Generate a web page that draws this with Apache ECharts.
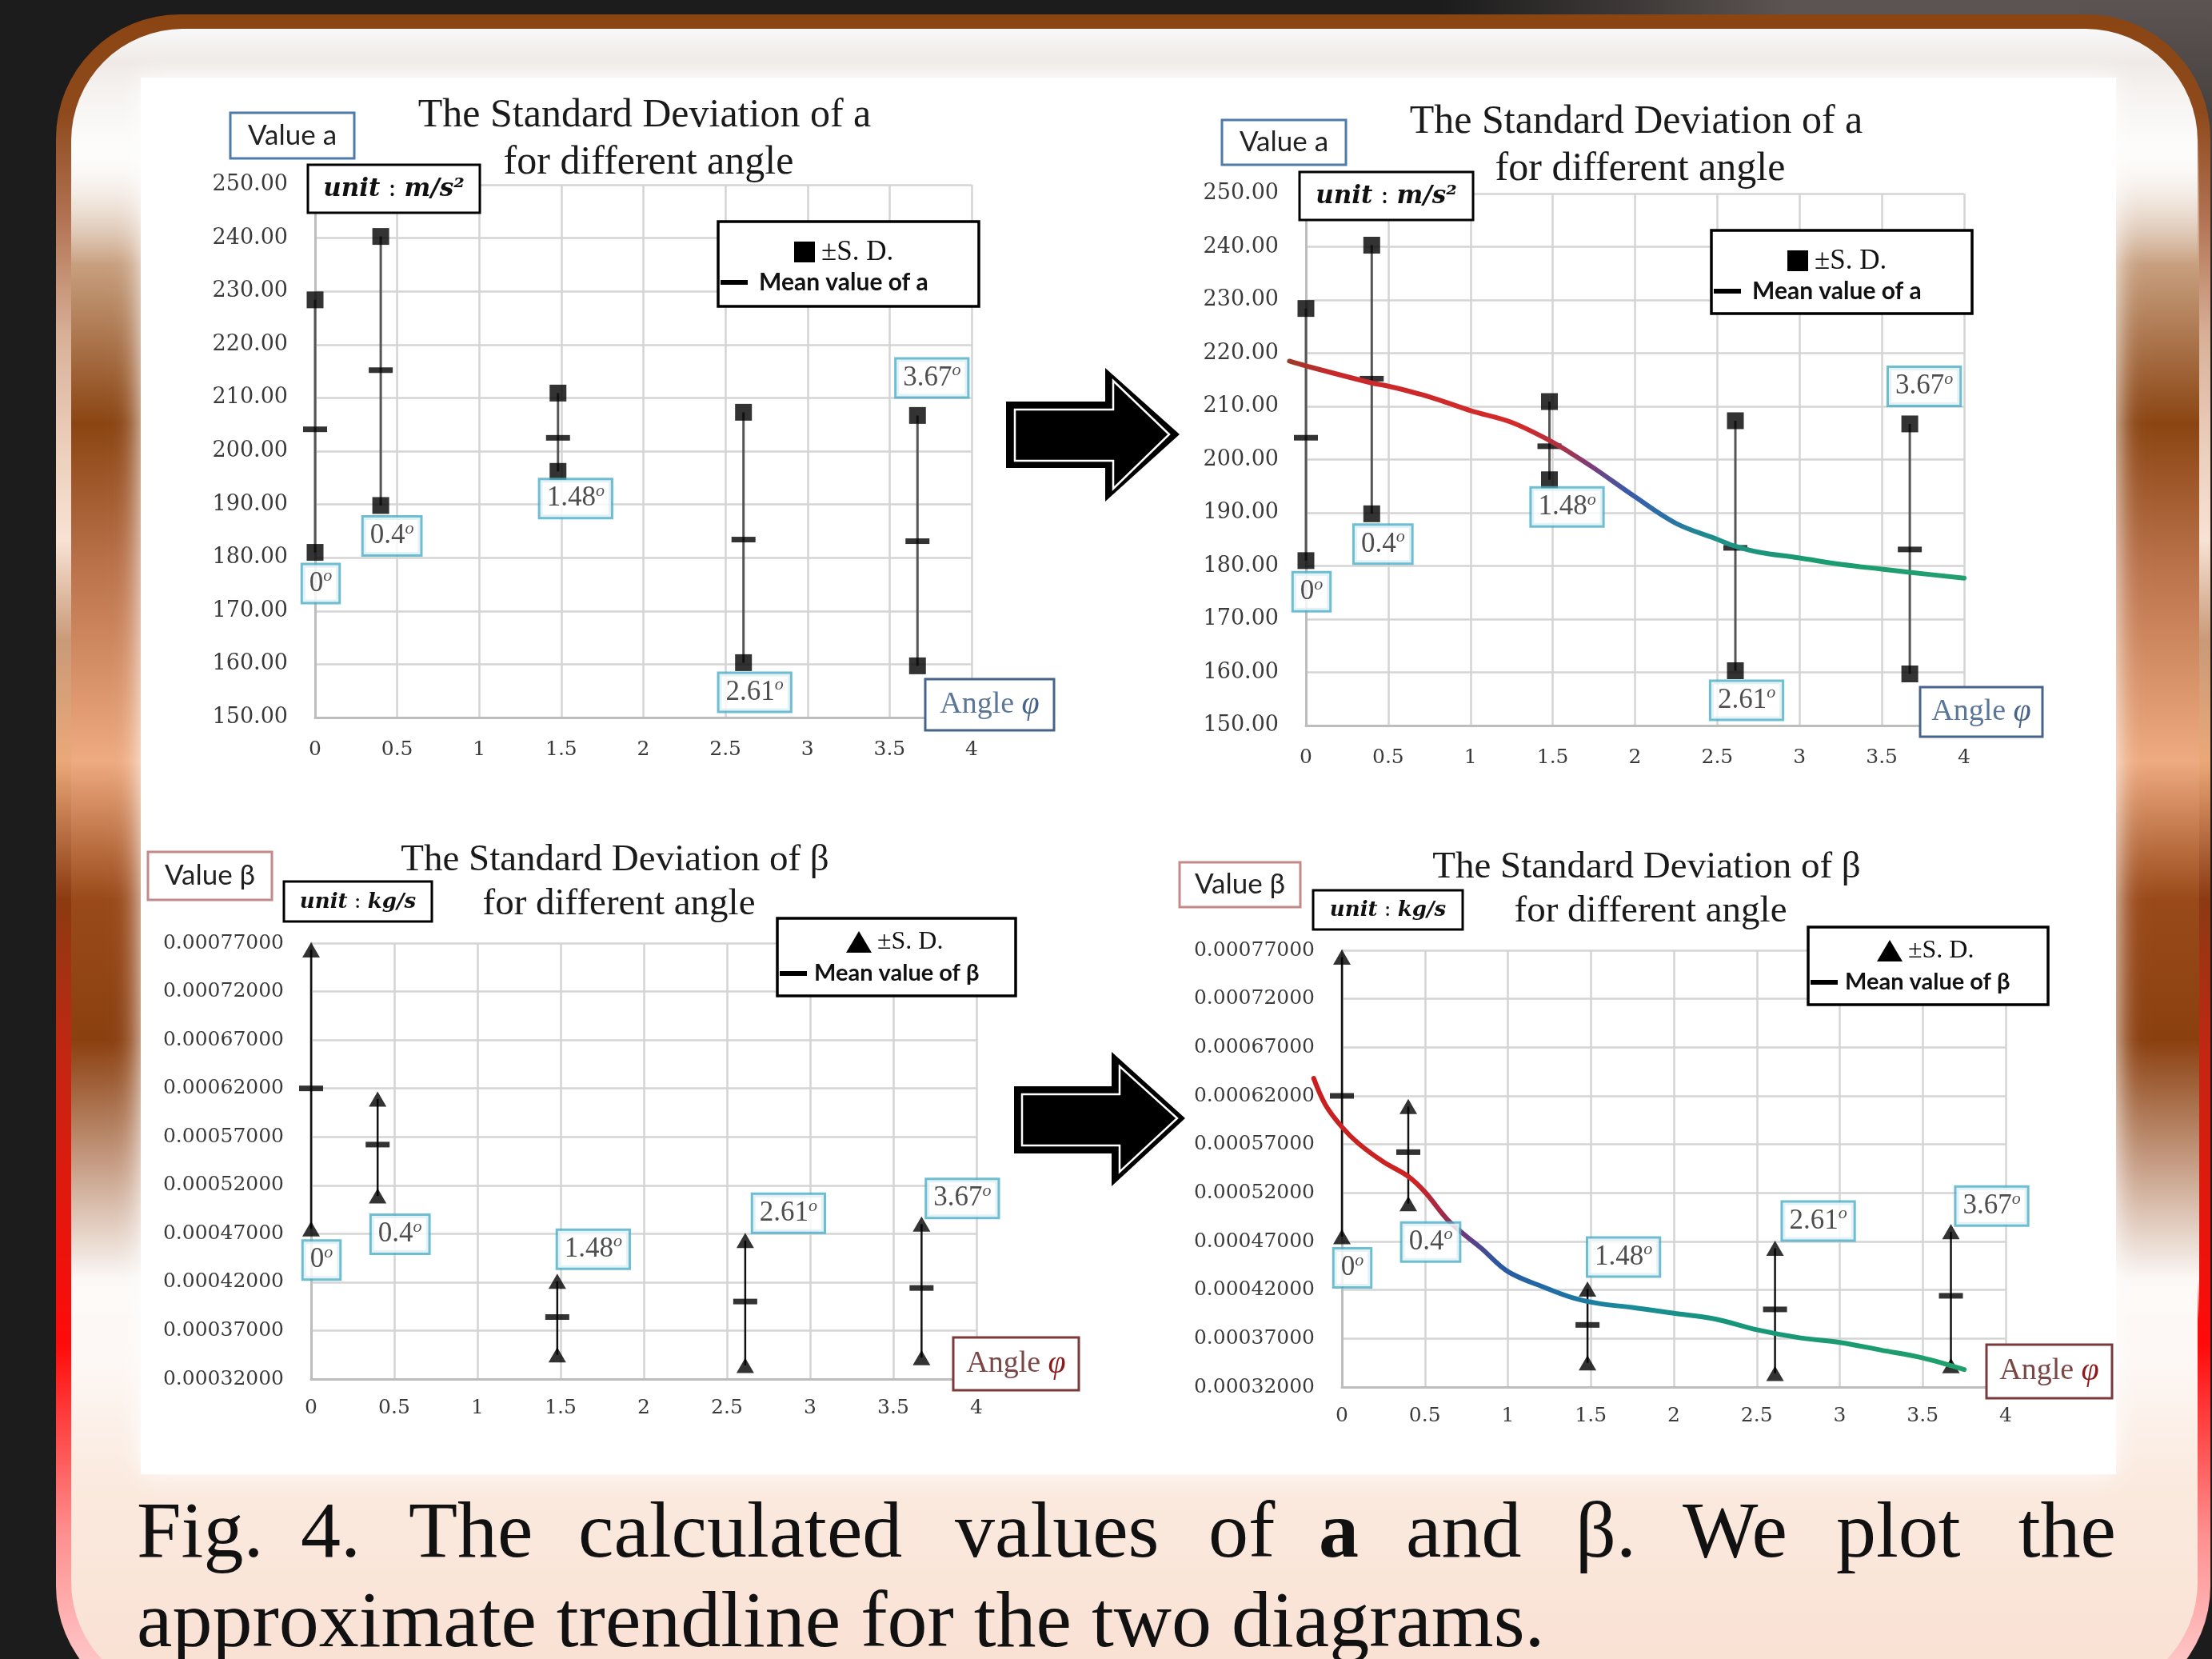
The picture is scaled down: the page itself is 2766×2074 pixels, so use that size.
<!DOCTYPE html>
<html>
<head>
<meta charset="utf-8">
<title>Standard deviation of a and β</title>
<script src="https://cdn.jsdelivr.net/npm/echarts@6/dist/echarts.min.js"></script>
<style>
  html, body { margin: 0; padding: 0; background: #1c1c1c; }
  #chart { width: 2766px; height: 2074px; }
</style>
</head>
<body>
<div id="chart"></div>
<script>
const chart = echarts.init(document.getElementById('chart'));

// angle of each measurement and the tag printed beside it
const angles = [0, 0.4, 1.48, 2.61, 3.67];
const angleTags = ['0', '0.4', '1.48', '2.61', '3.67'];

// value a (m/s^2): +S.D., mean, -S.D.
const aUpper = [228.4, 240.3, 210.9, 207.3, 206.7];
const aMean = [204.1, 215.2, 202.5, 183.4, 183.1];
const aLower = [181.0, 189.8, 196.2, 160.3, 159.7];

// value beta (kg/s): +S.D., mean, -S.D.
const bUpper = [0.000763, 0.000609, 0.000421, 0.000463, 0.000480];
const bMean = [0.000620, 0.000562, 0.000384, 0.000400, 0.000414];
const bLower = [0.000475, 0.000509, 0.000345, 0.000334, 0.000342];

// hand drawn trendlines (right hand charts)
const aTrendX = [-0.1, 0, 0.4, 0.5, 0.75, 1, 1.25, 1.48, 1.6, 1.75, 2, 2.25, 2.5, 2.61, 2.75, 3, 3.25, 3.5, 3.67, 4];
const aTrendY = [218.5, 217.6, 214.4, 213.8, 211.8, 209.2, 207.0, 203.6, 201.4, 198.4, 193.0, 188.0, 185.0, 183.7, 182.6, 181.5, 180.3, 179.4, 178.8, 177.7];
const bTrendX = [-0.17, -0.1, 0, 0.1, 0.25, 0.4, 0.5, 0.65, 0.84, 1, 1.23, 1.39, 1.55, 1.75, 2, 2.25, 2.5, 2.75, 3, 3.25, 3.5, 3.75];
const bTrendY = [0.000638, 0.000611, 0.000588, 0.000571, 0.000552, 0.000537, 0.000521, 0.000490, 0.000463, 0.000439, 0.000422, 0.000412, 0.000406, 0.000402, 0.000396, 0.000390, 0.000379, 0.000371, 0.000366, 0.000358, 0.000350, 0.000338];

// axis ranges [min, max, step]
const xRange = [0, 4, 0.5];
const aRange = [150, 250, 10];
const bRange = [0.00032, 0.00077, 0.00005];

const SERIF = 'Liberation Serif';
const AXFONT = 'DejaVu Serif';
const SANS = 'Lato';

const grids = [
  { left: 394, top: 231, width: 821, height: 666 },
  { left: 1633, top: 242, width: 823, height: 665 },
  { left: 389, top: 1179, width: 832, height: 545 },
  { left: 1678, top: 1188, width: 830, height: 546 }
];

function xAxisFor(i, margin) {
  return {
    type: 'value', gridIndex: i, min: xRange[0], max: xRange[1], interval: xRange[2],
    axisLine: { show: true, lineStyle: { color: '#bdbdbd', width: 3 } },
    axisTick: { show: false },
    splitLine: { show: true, lineStyle: { color: '#d4d4d4', width: 2.5 } },
    axisLabel: { color: '#3a3a3a', fontFamily: AXFONT, fontSize: 25, margin: margin }
  };
}
function yAxisFor(i, range, digits, size) {
  return {
    type: 'value', gridIndex: i, min: range[0], max: range[1], interval: range[2],
    axisLine: { show: true, lineStyle: { color: '#bdbdbd', width: 3 } },
    axisTick: { show: false },
    splitLine: { show: true, lineStyle: { color: '#d4d4d4', width: 2.5 } },
    axisLabel: { color: '#3a3a3a', fontFamily: AXFONT, fontSize: size, margin: 34,
      formatter: v => v.toFixed(digits) }
  };
}

// where the angle tag sits: which end of the bar, and pixel offset
const aTagSpots = [['lo', 7, 39], ['lo', 14, 38], ['lo', 22, 34], ['lo', 14, 37], ['hi', 18, -47]];
const bTagSpots = [['lo', 13, 39], ['lo', 28, 48], ['hi', 45, -40], ['hi', 54, -34], ['hi', 51, -32]];

function barSeries(idx, up, mean, lo, symbol, symbolSize, barColor, barWidth, spots) {
  return [
    {
      type: 'custom', xAxisIndex: idx, yAxisIndex: idx, z: 3,
      data: angles.map((x, i) => [x, lo[i], up[i]]),
      encode: { x: 0, y: [1, 2] },
      renderItem: (params, api) => {
        const p1 = api.coord([api.value(0), api.value(1)]);
        const p2 = api.coord([api.value(0), api.value(2)]);
        return { type: 'line', shape: { x1: p1[0], y1: p1[1], x2: p2[0], y2: p2[1] },
          style: { stroke: barColor, lineWidth: barWidth } };
      }
    },
    { type: 'scatter', xAxisIndex: idx, yAxisIndex: idx, z: 4, symbol, symbolSize,
      itemStyle: { color: '#000' }, data: angles.map((x, i) => [x, up[i]]) },
    { type: 'scatter', xAxisIndex: idx, yAxisIndex: idx, z: 4, symbol, symbolSize,
      itemStyle: { color: '#000' }, data: angles.map((x, i) => [x, lo[i]]) },
    { type: 'scatter', xAxisIndex: idx, yAxisIndex: idx, z: 4, symbol: 'rect', symbolSize: [30, 7],
      itemStyle: { color: '#000' }, data: angles.map((x, i) => [x, mean[i]]) },
    {
      type: 'scatter', xAxisIndex: idx, yAxisIndex: idx, z: 6, symbolSize: 1,
      itemStyle: { color: 'rgba(0,0,0,0)' },
      data: angles.map((x, i) => ({
        value: [x, spots[i][0] === 'lo' ? lo[i] : up[i]],
        label: { offset: [spots[i][1], spots[i][2]] }
      })),
      label: {
        show: true, position: 'inside',
        formatter: p => '{n|' + angleTags[p.dataIndex] + '}{o|o}',
        backgroundColor: '#fff', borderColor: '#4bacc6', borderWidth: 3, padding: [3, 8, 3, 8],
        rich: {
          n: { fontFamily: SERIF, fontSize: 35, color: '#222', lineHeight: 40 },
          o: { fontFamily: SERIF, fontStyle: 'italic', fontSize: 22, color: '#222', lineHeight: 22, verticalAlign: 'top' }
        }
      }
    }
  ];
}

// trendline drawn as one smooth polyline through the axis scales (may start left of x = 0)
function trendSeries(idx, xs, ys, stops) {
  return {
    type: 'custom', xAxisIndex: idx, yAxisIndex: idx, z: 5, clip: false,
    data: xs.map((x, i) => [x, ys[i]]),
    encode: { x: 0, y: 1 },
    renderItem: (params, api) => {
      if (params.dataIndex !== 0) return null;
      const pts = xs.map((x, i) => api.coord([x, ys[i]]));
      return {
        type: 'polyline',
        shape: { points: pts, smooth: 0.35 },
        style: { fill: 'none', lineWidth: 6, lineCap: 'round', lineJoin: 'round',
          stroke: new echarts.graphic.LinearGradient(0, 0, 1, 0, stops) }
      };
    }
  };
}

const aStops = [
  { offset: 0, color: '#9c3a2a' }, { offset: 0.07, color: '#c8282a' },
  { offset: 0.34, color: '#d42a2a' }, { offset: 0.40, color: '#b03040' },
  { offset: 0.45, color: '#7a3c7c' }, { offset: 0.50, color: '#3a5aa8' },
  { offset: 0.56, color: '#2a72a8' }, { offset: 0.63, color: '#1e9088' },
  { offset: 0.76, color: '#1a9a70' }, { offset: 1, color: '#22a070' }
];
const bStops = [
  { offset: 0, color: '#c82020' }, { offset: 0.16, color: '#cc2424' },
  { offset: 0.20, color: '#a02a4a' }, { offset: 0.235, color: '#6a3a80' },
  { offset: 0.285, color: '#2a58a0' }, { offset: 0.375, color: '#1f6fa5' },
  { offset: 0.48, color: '#1a8a9a' }, { offset: 0.63, color: '#17957a' },
  { offset: 1, color: '#1fa06a' }
];

// ---------- decoration (frame, boxes, arrows, caption) ----------
const G = [];
function rect(x, y, w, h, style, z, r) {
  G.push({ type: 'rect', silent: true, z: z, shape: { x, y, width: w, height: h, r: r || 0 }, style });
}
function text(x, y, str, style, z) {
  G.push({ type: 'text', silent: true, z: z || 8, x, y,
    style: Object.assign({ text: str, align: 'center', verticalAlign: 'middle', fill: '#222' }, style) });
}
function poly(points, style, z) {
  G.push({ type: 'polygon', silent: true, z: z || 7, shape: { points }, style });
}
const LG = echarts.graphic.LinearGradient;

// slide background and frame
rect(1800, 0, 966, 60, { fill: new LG(0, 0, 1, 0, [
  { offset: 0, color: '#1c1c1c' }, { offset: 0.25, color: '#3e3938' }, { offset: 0.45, color: '#5c5452' }, { offset: 1, color: '#5c5452' }]) }, -30);
rect(2600, 0, 166, 420, { fill: new LG(0, 0, 0, 1, [
  { offset: 0, color: '#5c5452' }, { offset: 1, color: '#1c1c1c' }]) }, -30);
rect(70, 18, 2694, 2120, { fill: new LG(0, 0, 0, 1, [
  { offset: 0, color: '#8b4513' }, { offset: 0.058, color: '#8e4a1c' },
  { offset: 0.117, color: '#b07050' }, { offset: 0.19, color: '#d8b098' },
  { offset: 0.24, color: '#e8c8b4' }, { offset: 0.31, color: '#f8e2d4' },
  { offset: 0.369, color: '#c99a78' }, { offset: 0.44, color: '#eaa878' },
  { offset: 0.522, color: '#8b3a12' }, { offset: 0.616, color: '#c42612' },
  { offset: 0.784, color: '#ff0a0a' }, { offset: 0.896, color: '#ff8f8f' },
  { offset: 0.97, color: '#ffc4c4' }, { offset: 1, color: '#ffd0d0' }]) }, -29, 155);
rect(89, 36, 2659, 2082, { fill: new LG(0, 0, 0, 1, [
  { offset: 0, color: '#f8f8f8' }, { offset: 0.02, color: '#efeae7' },
  { offset: 0.04, color: '#f6f3f1' }, { offset: 0.08, color: '#ffffff' },
  { offset: 0.8, color: '#fdf8f5' }, { offset: 0.87, color: '#fbeadf' },
  { offset: 1, color: '#f9e0d2' }]) }, -28, 140);
const bandStops = [
  { offset: 0, color: 'rgba(255,255,255,0)' }, { offset: 0.108, color: '#c8a080' },
  { offset: 0.243, color: '#8b4513' }, { offset: 0.358, color: '#b87048' },
  { offset: 0.528, color: '#eeaa80' }, { offset: 0.645, color: '#9a4a1a' },
  { offset: 0.764, color: '#8b4010' }, { offset: 0.872, color: '#c8a088' },
  { offset: 0.966, color: '#fbf8f6' }, { offset: 1, color: 'rgba(255,255,255,0)' }];
rect(89, 170, 90, 1480, { fill: new LG(0, 0, 0, 1, bandStops) }, -27);
rect(2642, 170, 108, 1480, { fill: new LG(0, 0, 0, 1, bandStops) }, -27);
rect(176, 97, 2470, 1746, { fill: '#ffffff', shadowColor: '#ffffff', shadowBlur: 30 }, -26);

// arrows
function arrow(outer, inner) {
  poly(outer, { fill: '#000' }, 7);
  poly(inner, { fill: 'none', stroke: '#fff', lineWidth: 2.5 }, 8);
}
arrow([[1258, 502], [1382, 502], [1382, 460], [1475, 543], [1382, 627], [1382, 585], [1258, 585]],
  [[1269, 512], [1392, 512], [1392, 476], [1462, 543], [1392, 611], [1392, 576], [1269, 576]]);
arrow([[1268, 1358], [1390, 1358], [1390, 1315], [1482, 1398], [1390, 1483], [1390, 1442], [1268, 1442]],
  [[1278, 1368], [1400, 1368], [1400, 1333], [1472, 1398], [1400, 1465], [1400, 1432], [1278, 1432]]);

// chart titles
function title(cx, cy, sym, size) {
  text(cx, cy, 'The Standard Deviation of ' + sym, { fontFamily: SERIF, fontSize: size, fill: '#1a1a1a' });
  text(cx + 5, cy + Math.round(size * 1.17), 'for different angle', { fontFamily: SERIF, fontSize: size, fill: '#1a1a1a' });
}
title(806, 145, 'a', 50);
title(2046, 153, 'a', 50);
title(769, 1076, 'β', 47);
title(2059, 1085, 'β', 47);

// value / unit / angle boxes
function box(x, y, w, h, stroke, lw) {
  rect(x, y, w, h, { fill: '#fff', stroke, lineWidth: lw }, 7);
}
function valueBox(x, y, w, h, label, stroke) {
  box(x, y, w, h, stroke, 3);
  text(x + w / 2, y + h / 2, label, { fontFamily: SANS, fontSize: 35, fill: '#222' });
}
valueBox(288, 141, 155, 57, 'Value a', '#4f7bab');
valueBox(1528, 150, 155, 56, 'Value a', '#4f7bab');
valueBox(185, 1065, 155, 60, 'Value β', '#c48a8a');
valueBox(1475, 1078, 151, 56, 'Value β', '#c48a8a');

function unitBox(x, y, w, h, unit, size) {
  box(x, y, w, h, '#000', 3);
  text(x + w / 2, y + h / 2 + 1, '{i|unit}{c| : }{i|' + unit + '}', {
    rich: {
      i: { fontFamily: 'DejaVu Serif', fontStyle: 'italic', fontWeight: 'bold', fontSize: size, fill: '#111' },
      c: { fontFamily: 'DejaVu Serif', fontSize: size, fill: '#111' }
    }
  });
}
unitBox(385, 206, 215, 60, 'm/s²', 31);
unitBox(1625, 215, 217, 60, 'm/s²', 31);
unitBox(355, 1102, 185, 50, 'kg/s', 26);
unitBox(1642, 1113, 187, 49, 'kg/s', 26);

function angleBox(x, y, w, h, stroke, word, phi) {
  box(x, y, w, h, stroke, 3);
  text(x + w / 2, y + h / 2, '{w|Angle }{p|φ}', {
    rich: {
      w: { fontFamily: SERIF, fontSize: 38, fill: word },
      p: { fontFamily: SERIF, fontStyle: 'italic', fontSize: 40, fill: phi }
    }
  });
}
angleBox(1157, 849, 161, 64, '#46648a', '#5a7698', '#46648a');
angleBox(2401, 859, 153, 62, '#46648a', '#5a7698', '#46648a');
angleBox(1192, 1672, 157, 66, '#7a3a3a', '#7b4646', '#8a1c1c');
angleBox(2484, 1681, 157, 67, '#7a3a3a', '#7b4646', '#8a1c1c');

// legends
function legendBox(x, y, w, h, mark, name, f) {
  box(x, y, w, h, '#000', 3.5);
  if (mark === 'square') {
    rect(x + 95, y + 25, 26, 26, { fill: '#000' }, 8);
    text(x + 129, y + 39, '±S. D.', { align: 'left', fontFamily: SERIF, fontSize: f + 5, fill: '#111' });
  } else {
    const cx = x + 102, cy = y + 30;
    poly([[cx - 16, cy + 13], [cx + 16, cy + 13], [cx, cy - 14]], { fill: '#000' }, 8);
    text(x + 125, y + 30, '±S. D.', { align: 'left', fontFamily: SERIF, fontSize: f + 3, fill: '#111' });
  }
  const ly = mark === 'square' ? 76 : 69;
  rect(x + 3, y + ly - 3, 34, 6, { fill: '#000' }, 8);
  text(x + (mark === 'square' ? 51 : 46), y + ly, name, { align: 'left', fontFamily: SANS, fontWeight: 'bold', fontSize: f, fill: '#111' });
}
legendBox(898, 277, 326, 106, 'square', 'Mean value of a', 30);
legendBox(2140, 288, 326, 104, 'square', 'Mean value of a', 30);
legendBox(972, 1148, 298, 97, 'triangle', 'Mean value of β', 29);
legendBox(2261, 1159, 300, 97, 'triangle', 'Mean value of β', 29);

// caption
const capFont = { fontFamily: SERIF, fontSize: 100, fill: '#111', align: 'left' };
const line1 = [['Fig.', 171], ['4.', 376], ['The', 511], ['calculated', 723], ['values', 1194],
  ['of', 1511], ['a', 1649, 'bold'], ['and', 1758], ['β.', 1970], ['We', 2104], ['plot', 2296]];
line1.forEach(w => text(w[1], 1920, w[0], Object.assign({}, capFont, w[2] ? { fontWeight: w[2] } : {})));
text(2646, 1920, 'the', Object.assign({}, capFont, { align: 'right' }));
text(171, 2032, 'approximate trendline for the two diagrams.', capFont);

chart.setOption({
  backgroundColor: '#1c1c1c',
  animation: false,
  grid: grids,
  xAxis: [xAxisFor(0, 28), xAxisFor(1, 28), xAxisFor(2, 24), xAxisFor(3, 24)],
  yAxis: [yAxisFor(0, aRange, 2, 27), yAxisFor(1, aRange, 2, 27), yAxisFor(2, bRange, 8, 25), yAxisFor(3, bRange, 8, 25)],
  graphic: G,
  series: [].concat(
    barSeries(0, aUpper, aMean, aLower, 'rect', 21, '#555', 3, aTagSpots),
    barSeries(1, aUpper, aMean, aLower, 'rect', 21, '#555', 3, aTagSpots),
    barSeries(2, bUpper, bMean, bLower, 'triangle', [22, 19], '#111', 2.5, bTagSpots),
    barSeries(3, bUpper, bMean, bLower, 'triangle', [22, 19], '#111', 2.5, bTagSpots),
    [trendSeries(1, aTrendX, aTrendY, aStops), trendSeries(3, bTrendX, bTrendY, bStops)]
  )
});
</script>
</body>
</html>
